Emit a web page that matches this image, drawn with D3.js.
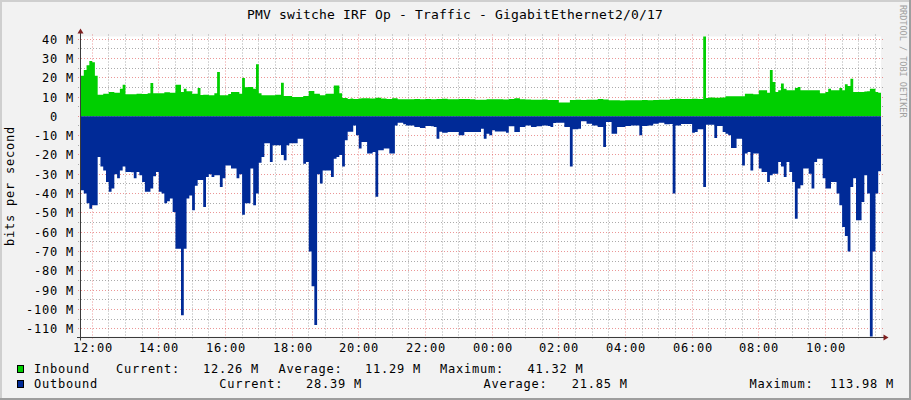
<!DOCTYPE html>
<html>
<head>
<meta charset="utf-8">
<script src="https://cdn.jsdelivr.net/npm/d3@7/dist/d3.min.js"></script>
<style>
  html, body { margin: 0; padding: 0; background: #f2f2f2; }
  svg { display: block; }
  text { font-family: "DejaVu Sans Mono", "Liberation Mono", monospace; fill: #000; white-space: pre; }
</style>
</head>
<body>
<svg id="chart" width="911" height="400"></svg>
<script>
// ---------------- data ----------------
const chartTitle = "PMV switche IRF Op - Traffic - GigabitEthernet2/0/17";
const yAxisTitle = "bits per second";
const watermark = "RRDTOOL / TOBI OETIKER";
const startTime = new Date(2024, 0, 15, 11, 40);
const endTime = new Date(2024, 0, 16, 11, 40);
const stepMinutes = 5;

// Mbit/s, one value per 5 minutes
const inbound = [
  21, 24, 26.4, 28.6, 28, 21,
  11.2, 11.2, 11.7, 11.7, 12.6, 12.6, 12.2, 12.2, 14.3, 16.4, 11.4, 11.4, 11.4, 11.4, 11.7, 11.7, 11.5, 11.5,
  12, 17.2, 12, 12, 12, 12, 12.4, 12.4, 12.2, 12.2, 16.4, 16.4, 12.6, 14.3, 13, 13, 11.7, 11.7, 14.7, 11, 11.2, 11.2, 10.9, 10.9,
  12, 23, 10.9, 10.9, 10.9, 11.5, 12.6, 12.6, 12.6, 11.7, 19.8, 15, 15.2, 15.2, 14.3, 27, 12, 10.9, 10.9, 10.9, 10.9, 10.9,
  11.2, 11.2, 17.4, 10.5, 10.5, 10.5, 10, 10, 10, 10, 10.5, 10.5, 13.1, 13.1, 11.7, 11.7, 10.9, 10.9, 11.7, 11.7, 11.7, 16, 16, 12,
  9.5, 9.5, 9, 9.2, 9, 9, 9.2, 9.4, 9.3, 9.3, 9.2, 9.2, 9.6, 9.6, 9.2, 9.2, 9, 9, 9.3, 9.3, 8.8, 8.8, 8.9, 8.9,
  8.8, 8.8, 9, 9, 8.8, 8.8, 9, 9, 8.8, 8.8, 9, 9, 9.1, 9.1, 8.9, 8.9, 8.8, 8.8, 9, 9, 9, 9, 8.9, 8.9,
  8.6, 8.6, 8.6, 8.6, 8.8, 8.8, 8.8, 8.8, 8.9, 8.9, 8.7, 8.7, 9.0, 9.0, 9.3, 9.3, 8.9, 8.9, 8.7, 8.7, 8.6, 8.6, 8.6, 8.6,
  8.7, 8.7, 8.5, 8.5, 8.5, 8.5, 7.2, 7.2, 7.2, 7.2, 8.4, 8.4, 8.6, 8.6, 8.5, 8.5, 8.6, 8.6, 8.6, 8.6, 9.0, 9.0, 8.7, 8.7,
  8.3, 8.3, 8.3, 8.3, 8.2, 8.2, 8.3, 8.3, 8.3, 8.3, 8.3, 8.3, 8.4, 8.4, 8.3, 8.3, 8.5, 8.5, 8.6, 8.6, 8.6, 8.6, 9, 9,
  9.1, 9.1, 9, 9, 9, 9, 9.1, 9.1, 9, 9, 41.32, 9.5, 9.7, 9.7, 9.6, 9.6, 9.7, 9.7, 10.4, 10.4, 10.4, 10.4, 10.4, 10.4,
  10.4, 11.7, 11.7, 11.7, 11.4, 11.4, 13.5, 13.5, 13.5, 12.2, 24, 17.8, 12.6, 13.5, 17, 14.3, 13.5, 13.5, 13.5, 14.7,
  15.2, 13.5, 13.5, 13.5, 13.5, 13.5, 13.5, 13.5, 12, 12, 12.6, 14.3, 13.5, 13.5, 13.5, 14.7, 13.5, 16.6, 15.7, 19.5,
  12.6, 12.6, 12.6, 12.6, 12.9, 13, 14.3, 14.3, 12.6, 12.26
];
const outbound = [
  38.3, 40, 45, 47.8, 46, 46, 21, 26, 28, 34, 39, 37.4, 30, 32, 28, 26, 28.8, 28.8, 29, 32, 28.8, 30.5, 34, 39,
  39, 37.4, 31, 28.8, 39, 40, 45, 44, 42.6, 49.5, 68.5, 68.5, 103, 68.5, 42.6, 41, 48.6, 36, 33, 33, 47, 31.4, 30, 31.4,
  30.5, 30.5, 36.6, 32, 25.4, 25.4, 27, 27, 32, 30, 51, 45, 45, 27, 46, 40, 24, 21, 14, 14, 23.6, 15, 15, 15,
  20, 22.8, 15, 14, 14, 14, 11.6, 11.6, 24.5, 23.6, 70, 88, 108, 30, 34.8, 28, 28, 28, 31.4, 22, 21, 20,
  26, 12.4, 8, 8, 4.7, 9.8, 16.7, 13.3, 13.3, 19.3, 19.3, 18.5, 41.7, 17.6, 17.6, 16.7, 16.7, 19.3, 19.3, 4.7, 3.3, 3.3, 4.1, 4.7,
  4.7, 4.7, 5.5, 5.5, 6, 6, 5, 5, 5.2, 5.5, 11.6, 8, 8.5, 8.5, 8.1, 8.1, 8.1, 8.1, 9.8, 9.8, 8.1, 8.1, 8.1, 8.1,
  8.1, 8.1, 6.4, 11.6, 9, 9.8, 7.2, 7.8, 7.8, 7.8, 7.8, 8.5, 5.2, 5.2, 8.1, 8.1, 5.5, 5.5, 4.7, 4.7, 5.5, 5.5, 5.2, 5.2,
  4.7, 4.7, 5, 5.5, 3.5, 3.3, 3.3, 3.3, 5.5, 5.5, 26, 6.7, 6.7, 6.4, 2.6, 2.6, 3.8, 3.8, 4.7, 4.7, 5.5, 5.5, 15.9, 3,
  2.9, 9, 9, 5.5, 5.5, 5.5, 5, 5, 4.7, 4.7, 4.7, 9.8, 5, 5, 4.7, 4.7, 3.8, 3.8, 3.3, 3.3, 4.1, 4.1, 4, 40,
  4.7, 4.7, 4, 4, 4, 4, 8.5, 8.1, 6.7, 6.7, 36.6, 4.3, 4.3, 4.3, 11.2, 5, 5, 8.1, 9, 9.8, 16.4, 16.4, 11.6, 11.6,
  25.4, 19.3, 18.5, 28, 19.3, 19.3, 27, 28.8, 28.8, 34, 30.5, 29.7, 29.7, 23.6, 26, 31.4, 23.6, 28.8, 34, 53,
  37.4, 35.7, 27, 27, 29.7, 37.4, 23.6, 22, 22, 32, 37.4, 37.4, 34, 34, 40, 46, 57.3, 62, 70, 36.6,
  32, 53.8, 53.8, 44.3, 30.5, 40, 113.98, 70, 40, 28.39
];

const yTickValues = [40, 30, 20, 10, 0, -10, -20, -30, -40, -50, -60, -70, -80, -90, -100, -110];
const yTickLabels = ["40 M", "30 M", "20 M", "10 M", "0  ", "-10 M", "-20 M", "-30 M", "-40 M", "-50 M",
                     "-60 M", "-70 M", "-80 M", "-90 M", "-100 M", "-110 M"];
const yDomain = [-113.98, 41.32];

const seriesNames = ["Inbound", "Outbound"];
const seriesColors = ["#00CF00", "#002A97"];
const legendCurrent = ["12.26 M", "28.39 M"];
const legendAverage = ["11.29 M", "21.85 M"];
const legendMaximum = ["41.32 M", "113.98 M"];

// ---------------- drawing ----------------
const W = 911, H = 400;
const X0 = 81, X1 = 881, YB = 336.5, YT = 36.5;
const svg = d3.select("#chart");

const x = d3.scaleTime().domain([startTime, endTime]).range([X0, X1]);
const y = d3.scaleLinear().domain(yDomain).range([YB, YT]);

// background + shades
svg.append("rect").attr("x", 0).attr("y", 0).attr("width", W).attr("height", H).attr("fill", "#f2f2f2");
svg.append("path").attr("d", `M0,0H${W}V2H2V${H}H0Z`).attr("fill", "#cfcfcf");
svg.append("path").attr("d", `M${W},0V${H}H0V${H-2}H${W-2}V0Z`).attr("fill", "#9e9e9e");

// canvas
svg.append("rect").attr("x", X0).attr("y", YT).attr("width", X1 - X0).attr("height", YB - YT).attr("fill", "#ffffff");

const snap = v => Math.round(v - 0.5) + 0.5;
const gridG = svg.append("g");
const minorColor = "rgba(143,143,143,0.75)";
const majorColor = "rgba(222,80,80,0.6)";

// horizontal grid
for (let v = -110; v <= 40; v += 5) {
  const major = v % 10 === 0;
  gridG.append("line")
    .attr("x1", X0 - 3).attr("x2", X1 + 2)
    .attr("y1", snap(y(v))).attr("y2", snap(y(v)))
    .attr("stroke", major ? majorColor : minorColor)
    .attr("stroke-width", 1)
    .attr("stroke-dasharray", "1,2");
}
// vertical grid
const minorTimes = d3.timeMinute.every(30).range(startTime, endTime);
minorTimes.forEach(t => {
  const major = t.getMinutes() === 0 && t.getHours() % 2 === 0;
  gridG.append("line")
    .attr("x1", snap(x(t))).attr("x2", snap(x(t)))
    .attr("y1", YT - 2).attr("y2", YB + 3)
    .attr("stroke", major ? majorColor : minorColor)
    .attr("stroke-width", 1)
    .attr("stroke-dasharray", "1,2");
});

// areas
const stepMs = stepMinutes * 60 * 1000;
function pts(arr, sign) {
  const p = arr.map((v, i) => ({ t: new Date(startTime.getTime() + i * stepMs), v: sign * v }));
  p.push({ t: new Date(startTime.getTime() + arr.length * stepMs), v: sign * arr[arr.length - 1] });
  return p;
}
const area = d3.area().curve(d3.curveStepAfter)
  .x(d => x(d.t)).y0(y(0)).y1(d => y(d.v));
svg.append("path").datum(pts(inbound, 1)).attr("d", area).attr("fill", seriesColors[0]);
svg.append("path").datum(pts(outbound, -1)).attr("d", area).attr("fill", seriesColors[1]);

// axes
const axisColor = "#3a3a3a";
const arrowColor = "#7f1f1f";
svg.append("line").attr("x1", 80.5).attr("x2", 80.5).attr("y1", YB + 4).attr("y2", YT - 4)
  .attr("stroke", axisColor).attr("stroke-width", 1);
svg.append("line").attr("x1", 77).attr("x2", X1 + 3).attr("y1", 337.5).attr("y2", 337.5)
  .attr("stroke", axisColor).attr("stroke-width", 1);
svg.append("path").attr("d", "M77.5,33.5L83.5,33.5L80.5,28.5Z").attr("fill", arrowColor);
svg.append("path").attr("d", `M${X1 + 2.5},334.5L${X1 + 2.5},340.5L${X1 + 7.5},337.5Z`).attr("fill", arrowColor);

// y tick labels
const lab = svg.append("g").attr("font-size", "12px").attr("letter-spacing", "0.78px");
yTickValues.forEach((v, i) => {
  lab.append("text").attr("x", 74).attr("y", snap(y(v)) + 4)
    .attr("text-anchor", "end").text(yTickLabels[i]);
});
// x tick labels
const xTicks = d3.timeHour.every(2).range(startTime, endTime);
const fmt = d3.timeFormat("%H:%M");
xTicks.forEach(t => {
  lab.append("text").attr("x", snap(x(t)) + 0.5).attr("y", 352)
    .attr("text-anchor", "middle").text(fmt(t));
});

// title
svg.append("text").attr("x", 455).attr("y", 19).attr("text-anchor", "middle")
  .attr("font-size", "13px").attr("letter-spacing", "0.17px").text(chartTitle);

// y-axis title
svg.append("text").attr("transform", "translate(14,186) rotate(-90)")
  .attr("text-anchor", "middle").attr("font-size", "12px").attr("letter-spacing", "0.78px")
  .text(yAxisTitle);

// watermark
svg.append("text").attr("transform", "translate(900,5) rotate(90)")
  .attr("font-size", "8.5px").style("fill", "#a0a0a0")
  .text(watermark);

// legend
const leg = svg.append("g").attr("font-size", "12px").attr("letter-spacing", "0.78px");
const rowY = [373, 388];
const legendPos = [
  { name: 34, curL: 116, curV: 203, avgL: 278.5, avgV: 365, maxL: 440, maxV: 527.5 },
  { name: 34, curL: 219.3, curV: 306, avgL: 483.5, avgV: 571.7, maxL: 749.5, maxV: 830 }
];
seriesNames.forEach((nm, i) => {
  const p = legendPos[i], by = rowY[i];
  leg.append("rect").attr("x", 17.5).attr("y", by - 7.5).attr("width", 6).attr("height", 7)
    .attr("fill", seriesColors[i]).attr("stroke", "#000").attr("stroke-width", 1);
  leg.append("text").attr("x", p.name).attr("y", by).text(nm);
  leg.append("text").attr("x", p.curL).attr("y", by).text("Current:");
  leg.append("text").attr("x", p.curV).attr("y", by).text(legendCurrent[i]);
  leg.append("text").attr("x", p.avgL).attr("y", by).text("Average:");
  leg.append("text").attr("x", p.avgV).attr("y", by).text(legendAverage[i]);
  leg.append("text").attr("x", p.maxL).attr("y", by).text("Maximum:");
  leg.append("text").attr("x", p.maxV).attr("y", by).text(legendMaximum[i]);
});
</script>
</body>
</html>
